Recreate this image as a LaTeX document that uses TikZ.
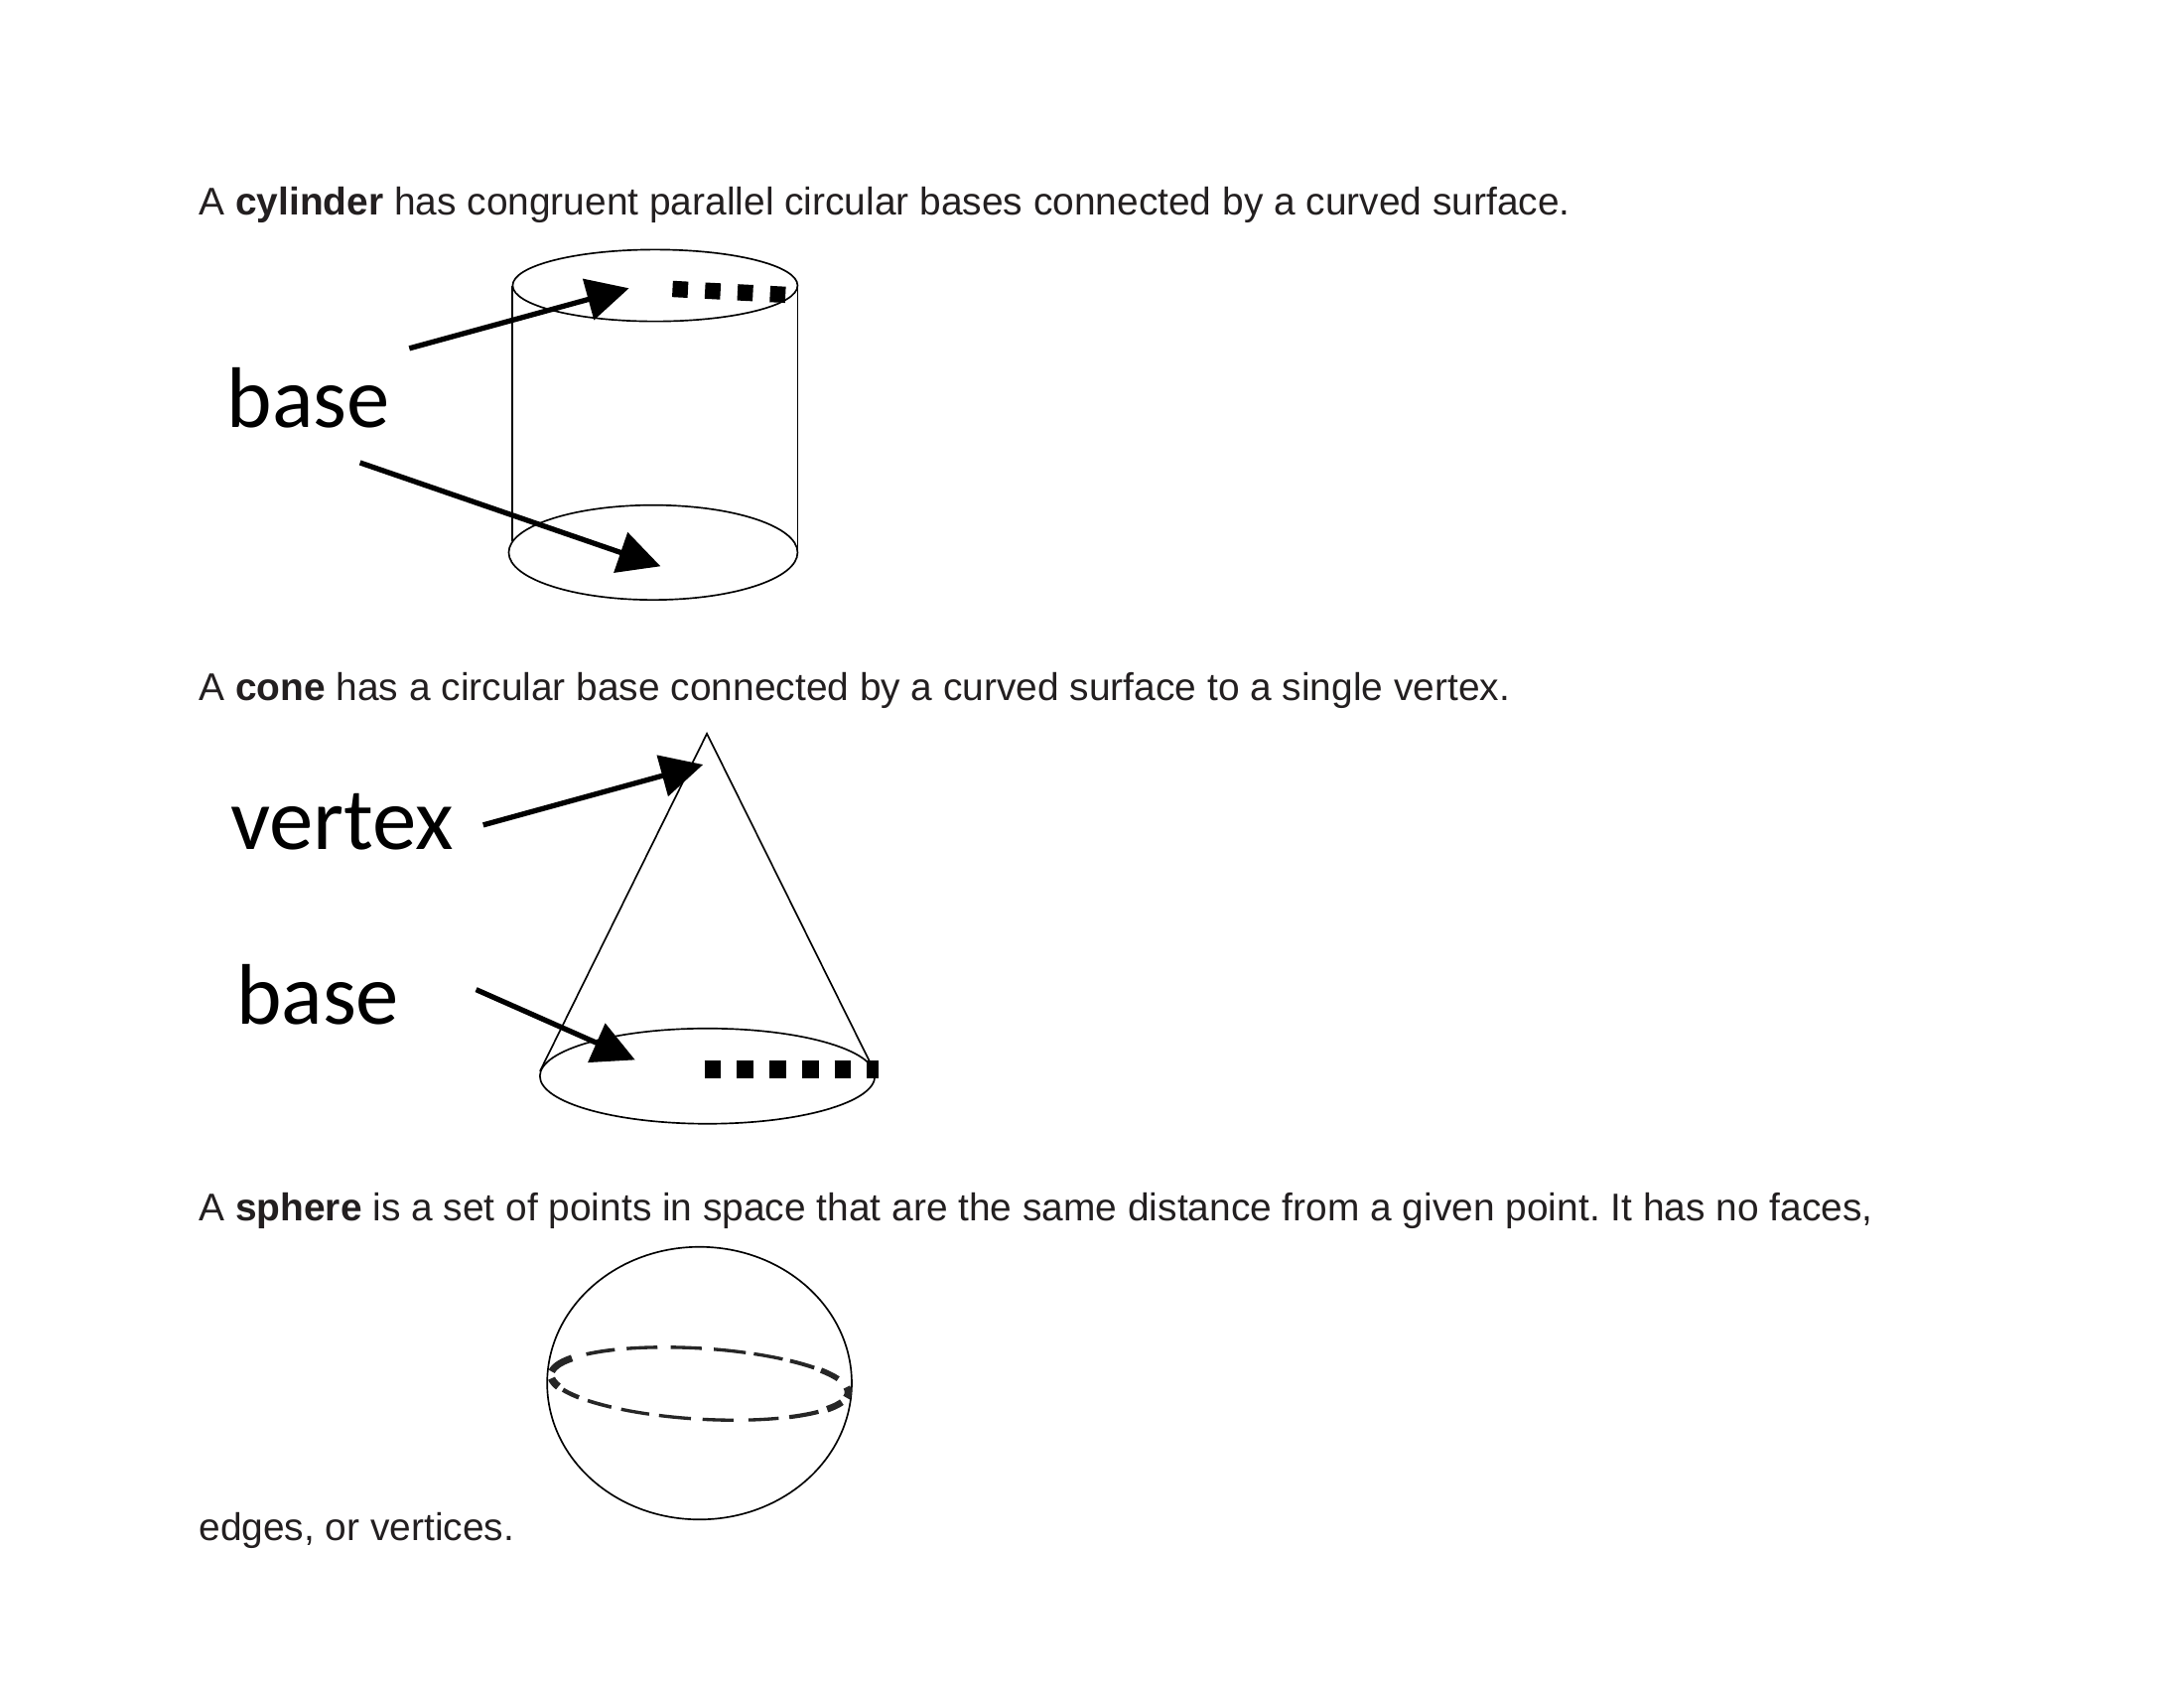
\documentclass[tikz,border=0pt]{standalone}
\usepackage{fontspec}
\setmainfont{Liberation Sans}
\newfontfamily\calibrifont{Carlito}
\usetikzlibrary{arrows.meta}
\definecolor{inktext}{HTML}{231F20}
\frenchspacing
\tikzset{
  para/.style={anchor=base west,inner sep=0pt,outer sep=0pt,text=inktext,font=\fontsize{14}{16}\selectfont},
  bigbase/.style={anchor=base west,inner sep=0pt,outer sep=0pt,text=black,font=\calibrifont\fontsize{31.2}{36}\selectfont},
  bigvertex/.style={anchor=base west,inner sep=0pt,outer sep=0pt,text=black,font=\calibrifont\fontsize{32}{37}\selectfont},
  thin outline/.style={draw=black,line width=0.6pt},
  pointer/.style={draw=black,line width=1.9pt,-{Triangle[length=15.3pt,width=15.1pt]}},
  square dots/.style={draw=black},
}
\begin{document}
\begin{tikzpicture}[x=0.3563pt,y=-0.3563pt]
\useasboundingbox (0,-2.5) rectangle (2222.9,1715.2);
\fill[white] (0,-2.5) rectangle (2222.9,1715.2);
% text
\node[para] (t1) at (202.5,216) {A \textbf{cylinder} has congruent parallel circular bases connected by a curved surface.};
\node[para] (t2) at (202.5,710.5) {A \textbf{cone} has a circular base connected by a curved surface to a single vertex.};
\node[para] (t3) at (202.5,1239.5) {A \textbf{sphere} is a set of points in space that are the same distance from a given point. It has no faces,};
\node[para] (t4) at (202.5,1565.5) {edges, or vertices.};
% cylinder
\draw[thin outline] (666.8,288) ellipse [x radius=145,y radius=36.5];
\draw[thin outline] (664.8,559.7) ellipse [x radius=147,y radius=48.2];
\draw[thin outline] (521.2,288) -- (521.2,547.7);
\draw[thin outline] (811.8,288) -- (811.8,561);
\draw[square dots,line width=5.9pt,dash pattern=on 5.6pt off 6.2pt] (684.5,291.5) -- (800,297.5);
\node[bigbase] (b1) at (231,432) {base};
\coordinate (a1s) at (416.6,352);
\coordinate (a1e) at (640.2,290.8);
\coordinate (a2s) at (366.4,468.3);
\coordinate (a2e) at (672.3,573.7);
\draw[pointer] (a1s) -- (a1e);
\draw[pointer] (a2s) -- (a2e);
% cone
\coordinate (apex) at (719.5,744);
\coordinate (cl) at (549.6,1087.5);
\coordinate (cr) at (885.5,1078.5);
\draw[thin outline] (cl) -- (apex) -- (cr);
\draw[thin outline] (720,1092.5) ellipse [x radius=170.5,y radius=48.5];
\draw[square dots,line width=6.3pt,dash pattern=on 6pt off 5.8pt] (716.9,1085.7) -- (894.4,1085.7);
\node[bigvertex] (v) at (234.5,861.5) {vertex};
\node[bigbase] (b2) at (240.5,1039.5) {base};
\coordinate (a3s) at (491.8,837);
\coordinate (a3e) at (715.6,775.5);
\coordinate (a4s) at (484.6,1004.5);
\coordinate (a4e) at (646.4,1076);
\draw[pointer] (a3s) -- (a3e);
\draw[pointer] (a4s) -- (a4e);
% sphere
\draw[thin outline] (711.9,1405) ellipse [x radius=155,y radius=138.7];
\begin{scope}[rotate around={-3.5:(712,1405.5)}]
\foreach \a/\b/\w in {150/175/2.5,125.6/140.5/1.3,107.3/120.2/1.2,90/102/1.2,72.7/85.3/1.2,56.8/69.4/1.2,40.3/53.3/1.4,22/36/2.0,-8/9/2.6,-30/-16/2.4,-52/-36/1.5,-70/-57/1.2,-88/-76/1.2,-105/-92.5/1.2,-121/-109/1.2,-138/-125.6/1.3,-156/-143.5/1.6,-174/-161/2.7}{
  \draw[line width=\w pt,draw=black!85] plot[domain=\a:\b,samples=8,smooth] ({712+151.5*cos(\x)},{1405.5-36*sin(\x)});
}
\end{scope}
\end{tikzpicture}
\end{document}
